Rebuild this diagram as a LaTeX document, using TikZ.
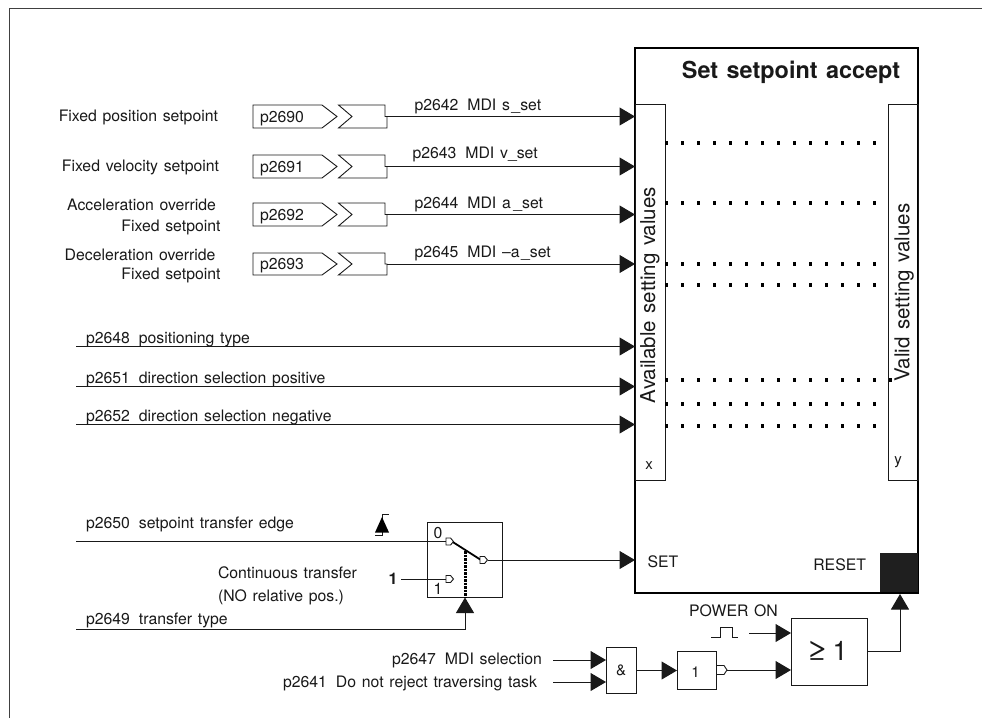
\documentclass[tikz,border=0pt]{standalone}
\usepackage{fontspec}
\setmainfont[WordSpace=1.3]{TeX Gyre Heros}
\usetikzlibrary{arrows.meta}
\newcommand{\gapp}{\hspace{9pt}}
\tikzset{
  every node/.style={inner sep=0pt,outer sep=0pt,font=\fontsize{15.8}{18}\selectfont,text=black!90},
  wire/.style={line width=1pt,draw=black!90},
  arr/.style={wire,-{Triangle[length=15.5pt,width=18pt]}},
  lblL/.style={anchor=base west},
  lblR/.style={anchor=base east},
  frameline/.style={line width=1pt,draw=black!75},
  boxn/.style={draw=black!90,line width=0.9pt,minimum width=#1,anchor=north west},
  thick box/.style={draw=black,line width=2pt,anchor=north west},
  dotrow/.style={line width=3.5pt,draw=black,dash pattern=on 2.5pt off 13.5pt},
  contact/.style={draw=black!90,line width=0.9pt,fill=white},
  big/.style={font=\fontsize{20.5}{23}\selectfont},
}
\newcommand{\paramrow}[4]{
  \path[draw=black!90,line width=0.9pt] (253,#1) -- (322,#1) -- (337,{(#1+#2)/2}) -- (322,#2) -- (253,#2) -- cycle;
  \node[lblL] (pt#3) at (260,{(#1+#2)/2+5.5}) {#4};
  \path[draw=black!90,line width=0.9pt] (338.5,#1) -- (385,#1) -- (385,{(#1+#2)/2}) -- (387,{(#1+#2)/2}) -- (387,#2) -- (338.5,#2) -- (352,{(#1+#2)/2}) -- cycle;
  \coordinate (po#3) at (387,{(#1+#2)/2});
}
\newcommand{\ctct}[2]{
  \path[contact] (#1-3.5,#2-3.5) -- (#1+1,#2-3.5) -- (#1+4,#2) -- (#1+1,#2+3.5) -- (#1-3.5,#2+3.5) -- cycle;
}
\begin{document}
\begin{tikzpicture}[x=1pt,y=-1pt]
\useasboundingbox (0,0) rectangle (982,718);
\fill[white] (0,0) rectangle (982,718);
\coordinate (fa) at (9.5,718);
\coordinate (fb) at (9.5,8.5);
\coordinate (fc) at (982,8.5);
\draw[frameline] (fa) -- (fb) -- (fc);

% main block
\node[thick box,minimum width=283pt,minimum height=545pt] (main) at (635,48) {};
\node[anchor=base,font=\bfseries\fontsize{23.4}{26}\selectfont] (title) at (791,78) {Set setpoint accept};
\node[boxn=30pt,minimum height=376pt] (avail) at (635.5,104) {};
\node[boxn=30pt,minimum height=376pt] (valid) at (888,104) {};
\node[big,rotate=90] (availt) at (650,295) {Available setting values};
\node[big,rotate=90] (validt) at (904,292.5) {Valid setting values};
\node[font=\fontsize{15}{17}\selectfont] (xl) at (649,466) {x};
\node[font=\fontsize{15}{17}\selectfont] (yl) at (898,462) {y};
\node[anchor=base west] (setl) at (647.5,567) {SET};
\node[anchor=base east] (resetl) at (866,570) {RESET};
\node[fill=black!88,minimum width=38pt,minimum height=39pt,anchor=north west] (resetb) at (880,553) {};

% dotted rows
\foreach \yy/\nm in {143/a,203/b,264/c,285/d,404/f,426/g}{
  \coordinate (dl\nm) at (665,\yy);
  \coordinate (dr\nm) at (876,\yy);
  \draw[dotrow] (dl\nm) -- (dr\nm);
}
\coordinate (dle) at (665,380);
\coordinate (dre) at (892,380);
\draw[dotrow] (dle) -- (dre);

% parameter rows
\paramrow{105}{128}{a}{p2690}
\paramrow{155}{178}{b}{p2691}
\paramrow{203}{226}{c}{p2692}
\paramrow{253}{275}{d}{p2693}
\node[lblR] (la) at (218,121.5) {Fixed position setpoint};
\node[lblR] (lb) at (219,171.5) {Fixed velocity setpoint};
\node[lblR] (lc1) at (216,210) {Acceleration override};
\node[lblR] (lc2) at (220.5,231) {Fixed setpoint};
\node[lblR] (ld1) at (215.5,260) {Deceleration override};
\node[lblR] (ld2) at (220.5,279) {Fixed setpoint};

\coordinate (ia) at (main.west |- poa);
\coordinate (ib) at (main.west |- pob);
\coordinate (ic) at (main.west |- poc);
\coordinate (id) at (main.west |- pod);
\draw[arr] (poa) -- (ia);
\draw[arr] (pob) -- (ib);
\draw[arr] (poc) -- (ic);
\draw[arr] (pod) -- (id);
\node[lblL] (ta) at (414.5,110) {p2642\gapp MDI s\hspace{1.5pt}\_set};
\node[lblL] (tb) at (412.5,158) {p2643\gapp MDI v\_set};
\node[lblL] (tc) at (414.5,208) {p2644\gapp MDI a\hspace{2.5pt}\_set};
\node[lblL] (td) at (414.5,257) {p2645\gapp MDI –a\hspace{1.5pt}\_set};

% plain signal lines
\foreach \yy/\nm in {346.5/e,386.5/f,424.5/g}{
  \coordinate (s\nm) at (76,\yy);
  \coordinate (i\nm) at (635,\yy);
  \draw[arr] (s\nm) -- (i\nm);
}
\node[lblL] (te) at (86,343) {p2648\gapp positioning type};
\node[lblL] (tf) at (86,383) {p2651\gapp direction selection positive};
\node[lblL] (tg) at (86,421) {p2652\gapp direction selection negative};

% switch
\node[boxn=75pt,minimum height=75pt] (sw) at (427,522) {};
\node (sw0) at (438,533) {0};
\node (sw1) at (438,589) {1};
\coordinate (s50) at (76,541.5);
\coordinate (c0) at (446.5,541.5);
\coordinate (c1) at (446.5,579);
\coordinate (co) at (488,560);
\coordinate (setin) at (635,560);
\draw[wire] (s50) -- (c0);
\node[lblL] (t50) at (86,528) {p2650\gapp setpoint transfer edge};
\node[lblL] (tcont1) at (218,578) {Continuous transfer};
\node[lblL] (tcont2) at (218,601) {(NO relative pos.)};
\node[lblL] (t49) at (86,624) {p2649\gapp transfer type};
\node[font=\bfseries\fontsize{16}{18}\selectfont] (one) at (393,579) {1};
\coordinate (oneR) at (401,579);
\draw[wire] (oneR) -- (c1);
\draw[arr] (co) -- (setin);
\coordinate (blA) at (452,541.5);
\coordinate (blB) at (481,560);
\draw[line width=1.8pt,draw=black] (blA) -- (blB);
\coordinate (dotT) at (465.5,551);
\coordinate (dotB) at (465.5,598);
\draw[line width=2.4pt,draw=black,dash pattern=on 2.5pt off 1pt] (dotT) -- (dotB);
\coordinate (s49) at (76,629.5);
\coordinate (s49b) at (465,629.5);
\draw[arr] (s49) -- (s49b) -- (465,597.5);
\ctct{449.5}{541.5}
\ctct{449.5}{579}
\ctct{483.5}{560}

% edge symbol
\coordinate (eA) at (375,535.5);
\coordinate (eB) at (382,535.5);
\coordinate (eC) at (382,514);
\coordinate (eD) at (388.5,514);
\draw[line width=0.8pt,draw=black!90] (eA) -- (eB) -- (eC) -- (eD);
\fill[black] (382,517) -- (389,532.5) -- (375,532.5) -- cycle;

% logic
\node[boxn=30pt,minimum height=46pt] (and) at (606,647) {};
\node[font=\fontsize{15}{17}\selectfont] (andt) at (621,670) {\&};
\node[boxn=39pt,minimum height=38pt] (nt) at (677,651) {};
\node[font=\fontsize{15}{17}\selectfont] (ntt) at (695.5,672) {1};
\node[boxn=76pt,minimum height=67pt] (orb) at (791,618) {};
\node[font=\fontsize{26}{30}\selectfont] (orge) at (817,651) {\scalebox{1.6}[1]{≥}};
\node[font=\fontsize{27}{30}\selectfont] (ort) at (840,651) {1};
\coordinate (i47) at (553,660);
\coordinate (i41) at (553,682);
\draw[arr] (i47) -- (i47 -| and.west);
\draw[arr] (i41) -- (i41 -| and.west);
\node[lblR] (t47) at (542,664) {p2647\gapp MDI selection};
\node[lblR] (t41) at (537,687) {p2641\gapp Do not reject traversing task};
\coordinate (andout) at (636,670.5);
\draw[arr] (andout) -- (andout -| nt.west);
\coordinate (bub) at (727,670);
\draw[arr] (bub) -- (bub -| orb.west);
\path[contact] (716.5,665.5) -- (724,665.5) -- (727,670) -- (724,674.5) -- (716.5,674.5) -- cycle;
\coordinate (pwr) at (749,633);
\draw[arr] (pwr) -- (pwr -| orb.west);
\node[anchor=base] (pon) at (733.5,616.5) {POWER ON};
\coordinate (p0) at (711,637);
\coordinate (p1) at (720,637);
\coordinate (p2) at (720,627);
\coordinate (p3) at (732,627);
\coordinate (p4) at (732,637);
\coordinate (p5) at (738,637);
\draw[line width=0.8pt,draw=black!90] (p0) -- (p1) -- (p2) -- (p3) -- (p4) -- (p5);
\coordinate (orout) at (867,651);
\coordinate (rst) at (900,651);
\coordinate (rstT) at (900,594);
\draw[arr] (orout) -- (rst) -- (rstT);
\end{tikzpicture}
\end{document}
